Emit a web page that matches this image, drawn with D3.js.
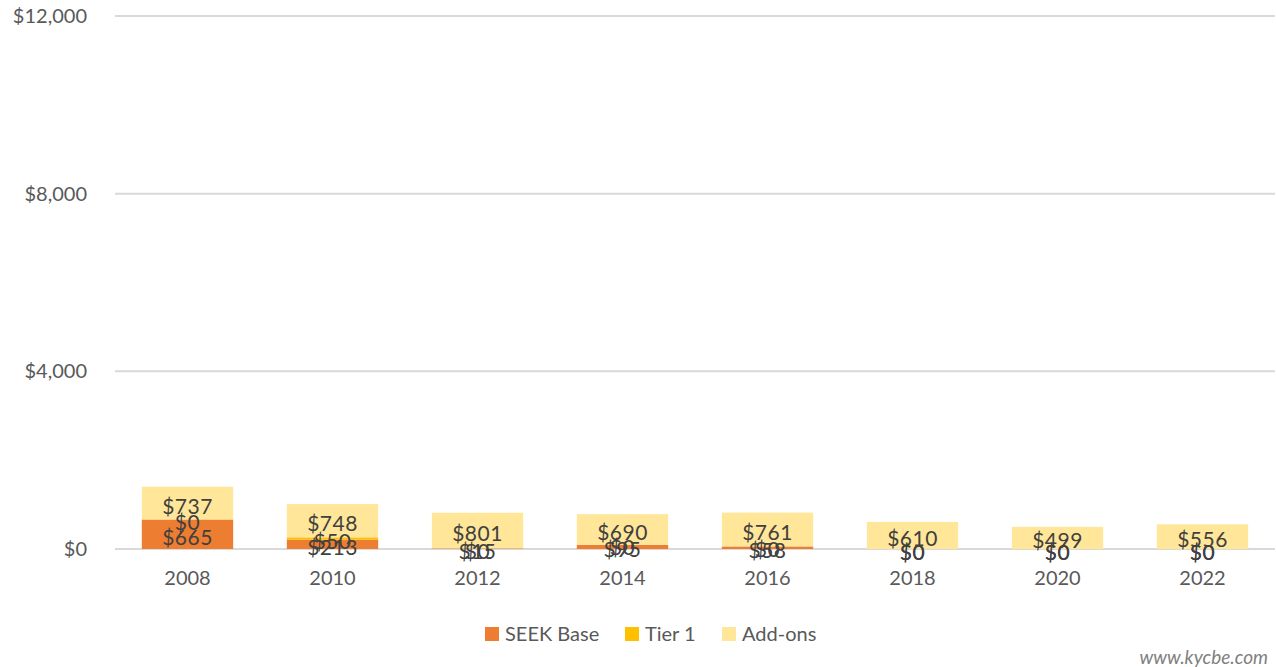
<!DOCTYPE html>
<html>
<head>
<meta charset="utf-8">
<script src="https://cdn.jsdelivr.net/npm/d3@7"></script>
<style>
  body { margin: 0; background: #fff; }
  svg { display: block; font-family: Lato, "Open Sans", sans-serif; }
</style>
</head>
<body>
<div id="chart"></div>
<script>
const years = ['2008', '2010', '2012', '2014', '2016', '2018', '2020', '2022'];
const seekBase = [665, 213, 15, 95, 58, 0, 0, 0];
const tier1 = [0, 50, 0, 0, 0, 0, 0, 0];
const addOns = [737, 748, 801, 690, 761, 610, 499, 556];
const yTicks = [0, 4000, 8000, 12000];

const seriesNames = ['SEEK Base', 'Tier 1', 'Add-ons'];
const colors = ['#ED7D31', '#FFC000', '#FFE699'];

const width = 1276, height = 667;
const margin = { top: 16, right: 1, bottom: 118, left: 115 };

const rows = years.map((y, i) => ({ year: y, 'SEEK Base': seekBase[i], 'Tier 1': tier1[i], 'Add-ons': addOns[i] }));
const stacked = d3.stack().keys(seriesNames)(rows);

const svg = d3.select('#chart').append('svg')
  .attr('width', width)
  .attr('height', height);

const x = d3.scaleBand()
  .domain(years)
  .range([margin.left, width - margin.right])
  .paddingInner(0.37)
  .paddingOuter(0.185);

const y = d3.scaleLinear()
  .domain([0, 12000])
  .range([height - margin.bottom, margin.top]);

// gridlines
svg.append('g')
  .selectAll('line')
  .data(yTicks)
  .join('line')
  .attr('x1', margin.left)
  .attr('x2', width - margin.right)
  .attr('y1', d => y(d))
  .attr('y2', d => y(d))
  .attr('stroke', '#d9d9d9')
  .attr('stroke-width', 2);

// y axis labels
const yAxis = d3.axisLeft(y)
  .tickValues(yTicks)
  .tickSize(0)
  .tickPadding(0)
  .tickFormat(d => '$' + d3.format(',')(d));
svg.append('g')
  .attr('transform', 'translate(87,0)')
  .call(yAxis)
  .call(g => g.select('.domain').remove())
  .selectAll('text')
  .attr('font-size', 20)
  .attr('font-family', 'Lato, sans-serif')
  .attr('fill', '#595959');

// bars
svg.append('g')
  .selectAll('g')
  .data(stacked)
  .join('g')
  .attr('fill', (d, i) => colors[i])
  .selectAll('rect')
  .data(d => d)
  .join('rect')
  .attr('x', d => x(d.data.year))
  .attr('width', x.bandwidth())
  .attr('y', d => y(d[1]))
  .attr('height', d => y(d[0]) - y(d[1]));

// x axis labels
const xAxis = d3.axisBottom(x).tickSize(0).tickPadding(0);
svg.append('g')
  .attr('transform', `translate(0, ${y(0) + 22})`)
  .call(xAxis)
  .call(g => g.select('.domain').remove())
  .selectAll('text')
  .attr('font-size', 20)
  .attr('font-family', 'Lato, sans-serif')
  .attr('fill', '#595959');

// data labels
svg.append('g')
  .selectAll('g')
  .data(stacked)
  .join('g')
  .selectAll('text')
  .data(d => d.map(v => ({ v, key: d.key })))
  .join('text')
  .attr('x', d => x(d.v.data.year) + x.bandwidth() / 2)
  .attr('y', d => y((d.v[0] + d.v[1]) / 2))
  .attr('dy', '0.5em')
  .attr('text-anchor', 'middle')
  .attr('font-size', 21)
  .attr('letter-spacing', 0.5)
  .attr('fill', '#404040')
  .text(d => '$' + d3.format(',')(d.v.data[d.key]));

// legend
const legendX = [485, 625, 722];
const legend = svg.append('g')
  .selectAll('g')
  .data(seriesNames)
  .join('g')
  .attr('transform', (d, i) => `translate(${legendX[i]}, 627)`);
legend.append('rect')
  .attr('width', 14)
  .attr('height', 14)
  .attr('fill', (d, i) => colors[i]);
legend.append('text')
  .attr('x', 20)
  .attr('y', 7)
  .attr('dy', '0.36em')
  .attr('font-size', 20)
  .attr('fill', '#595959')
  .text(d => d);

// watermark
svg.append('text')
  .attr('x', 1268)
  .attr('y', 664)
  .attr('text-anchor', 'end')
  .attr('font-size', 19)
  .attr('font-style', 'italic')
  .attr('fill', '#7f7f7f')
  .text('www.kycbe.com');
</script>
</body>
</html>
